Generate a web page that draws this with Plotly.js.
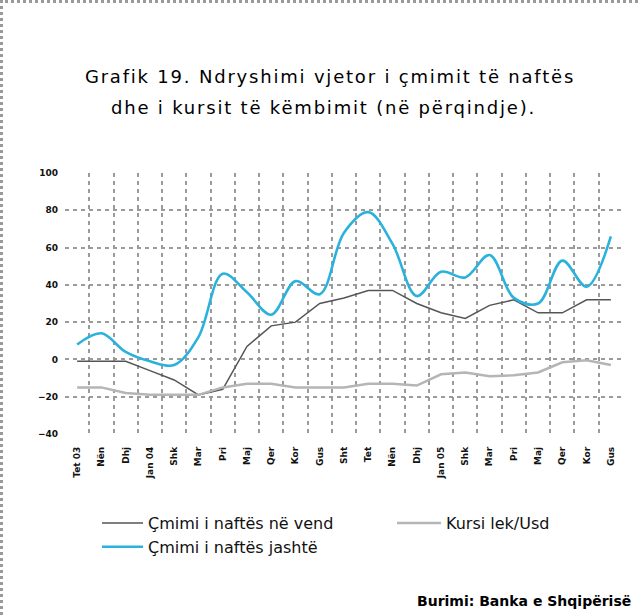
<!DOCTYPE html>
<html>
<head>
<meta charset="utf-8">
<script src="https://cdn.plot.ly/plotly-3.0.1.min.js"></script>
<style>
  html, body { margin: 0; padding: 0; background: #fff; overflow: hidden; }
  #wrap { position: relative; width: 638px; height: 615px; }
  #frame { position: absolute; left: 0; top: 0; width: 638px; height: 615px;
           border-top: 3px dotted #9a9a9a; border-left: 3px dotted #9a9a9a;
           box-sizing: border-box; pointer-events: none; }
  .gtitle { letter-spacing: 1.8px; }
  .annotation[data-index="0"] .annotation-text { letter-spacing: 1.8px; }
</style>
</head>
<body>
<div id="wrap">
  <div id="chart"></div>
  <div id="frame"></div>
</div>
<script>
// Categories (months) and displayed tick labels
const categories = ["Tet 03","Nën 03","Dhj 03","Jan 04","Shk 04","Mar 04","Pri 04","Maj 04","Qer 04","Kor 04","Gus 04","Sht 04",
                    "Tet 04","Nën 04","Dhj 04","Jan 05","Shk 05","Mar 05","Pri 05","Maj 05","Qer 05","Kor 05","Gus 05"];
const tickLabels = ["Tet 03","Nën","Dhj","Jan 04","Shk","Mar","Pri","Maj","Qer","Kor","Gus","Sht",
                    "Tet","Nën","Dhj","Jan 05","Shk","Mar","Pri","Maj","Qer","Kor","Gus"];

// Series (annual change, %)
const domesticOil = [-1, -1, -1, -6, -11, -19, -16, 7, 18, 20, 30, 33, 37, 37, 30, 25, 22, 29, 32, 25, 25, 32, 32];
const exchangeRate = [-15, -15, -18, -19, -19, -19, -15, -13, -13, -15, -15, -15, -13, -13, -14, -8, -7, -9, -8.5, -7, -1.5, -0.5, -3];
const foreignOil = [8, 14, 4, -1, -3, 12, 46, 36, 24, 42, 35, 68, 79, 62, 34, 47, 44, 56, 33, 30, 53, 39, 66];

const seriesNames = ["Çmimi i naftës në vend", "Kursi lek/Usd", "Çmimi i naftës jashtë"];
const titleLine1 = "Grafik 19. Ndryshimi vjetor i çmimit të naftës";
const titleLine2 = "dhe i kursit të këmbimit (në përqindje).";
const sourceText = "Burimi: Banka e Shqipërisë";

const FONT = "DejaVu Sans";

const traces = [
  { x: categories, y: domesticOil, name: seriesNames[0], type: "scatter", mode: "lines",
    legend: "legend", legendgroup: "a",
    line: { color: "#555555", width: 1.5 } },
  { x: categories, y: exchangeRate, name: seriesNames[1], type: "scatter", mode: "lines",
    legend: "legend2", legendgroup: "b",
    line: { color: "#b5b5b5", width: 2.5 } },
  { x: categories, y: foreignOil, name: seriesNames[2], type: "scatter", mode: "lines",
    legend: "legend", legendgroup: "c",
    line: { color: "#2bb2dc", width: 2.6, shape: "spline", smoothing: 1 } }
];

const gridStyle = { showgrid: true, gridcolor: "#9a9a9a", gridwidth: 2, griddash: "4px,4px" };
const legendFont = { family: FONT, size: 16, color: "#111" };
const legendY = (434 - 506) / 261;

const layout = {
  width: 638, height: 615,
  margin: { l: 65, r: 15, t: 173, b: 181 },
  paper_bgcolor: "#ffffff", plot_bgcolor: "#ffffff",
  font: { family: FONT, color: "#111" },
  title: { text: titleLine1, font: { family: FONT, size: 18, color: "#000" },
           xref: "container", x: 330 / 638, xanchor: "center",
           yref: "container", y: 1 - 77 / 615, yanchor: "middle" },
  xaxis: Object.assign({
    type: "category", categoryorder: "array", categoryarray: categories,
    tickmode: "array", tickvals: categories, ticktext: tickLabels,
    tickson: "boundaries", ticks: "", tickangle: -90,
    tickfont: { family: FONT, size: 9, color: "#111", weight: "bold" },
    ticklabelstandoff: 10, range: [-0.5, 22.5], showline: false, zeroline: false
  }, gridStyle),
  yaxis: Object.assign({
    range: [-40, 100], tick0: 0, dtick: 20, ticks: "",
    tickfont: { family: FONT, size: 9, color: "#111", weight: "bold" },
    ticklabelstandoff: 6, showline: false, zeroline: false
  }, gridStyle),
  showlegend: true,
  legend: {
    orientation: "v", x: (97 - 65) / 558, xanchor: "left",
    y: legendY, yanchor: "top", traceorder: "normal",
    font: legendFont, itemwidth: 41, bgcolor: "rgba(0,0,0,0)", tracegroupgap: 3
  },
  legend2: {
    orientation: "v", x: (392 - 65) / 558, xanchor: "left",
    y: legendY, yanchor: "top",
    font: legendFont, itemwidth: 44, bgcolor: "rgba(0,0,0,0)"
  },
  annotations: [
    { text: titleLine2, xref: "paper", yref: "paper", x: (323 - 65) / 558, y: (434 - 107) / 261,
      xanchor: "center", yanchor: "middle", showarrow: false,
      font: { family: FONT, size: 18, color: "#000" } },
    { text: sourceText, xref: "paper", yref: "paper", x: (633 - 65) / 558, y: (434 - 601) / 261,
      xanchor: "right", yanchor: "middle", showarrow: false,
      font: { family: FONT, size: 14, color: "#000", weight: "bold" } }
  ]
};

Plotly.newPlot("chart", traces, layout, { displayModeBar: false, staticPlot: true });
</script>
</body>
</html>
